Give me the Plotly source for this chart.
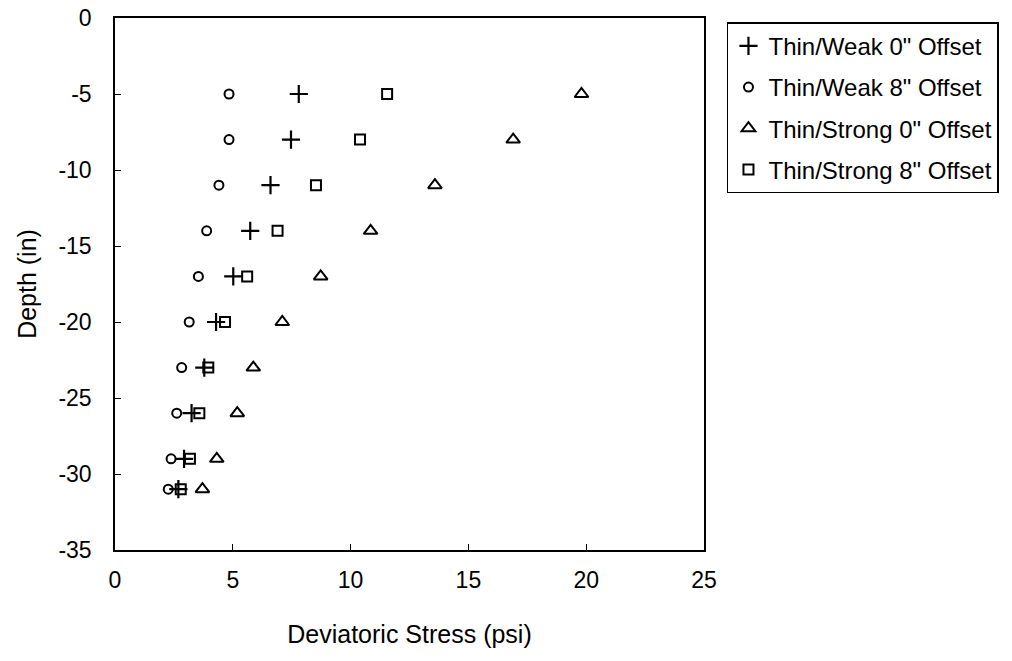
import plotly.graph_objects as go

# Depth below surface (in)
depth = [-5, -8, -11, -14, -17, -20, -23, -26, -29, -31]

# Deviatoric stress (psi) for each test section
weak_0 = [7.8, 7.47, 6.6, 5.74, 5.02, 4.29, 3.79, 3.25, 2.93, 2.69]
weak_8 = [4.84, 4.84, 4.41, 3.89, 3.54, 3.15, 2.83, 2.62, 2.38, 2.26]
strong_0 = [19.8, 16.9, 13.58, 10.85, 8.73, 7.1, 5.87, 5.19, 4.32, 3.71]
strong_8 = [11.55, 10.4, 8.53, 6.9, 5.61, 4.67, 3.96, 3.58, 3.18, 2.79]

series_names = [
    "Thin/Weak 0\" Offset",
    "Thin/Weak 8\" Offset",
    "Thin/Strong 0\" Offset",
    "Thin/Strong 8\" Offset",
]

x_ticks = [0, 5, 10, 15, 20, 25]
y_ticks = [0, -5, -10, -15, -20, -25, -30, -35]

FONT = "Arial, Liberation Sans, sans-serif"

styles = [
    dict(symbol="cross-thin-open", size=13, line=dict(color="black", width=2.2)),
    dict(symbol="circle-open", size=9, line=dict(color="black", width=2)),
    dict(symbol="triangle-up-open", size=12, line=dict(color="black", width=2)),
    dict(symbol="square-open", size=10, line=dict(color="black", width=2)),
]

fig = go.Figure()
for i, (name, xs, st) in enumerate(zip(series_names, [weak_0, weak_8, strong_0, strong_8], styles)):
    fig.add_trace(go.Scatter(
        x=xs, y=depth, mode="markers", name=name,
        legendgroup=f"g{i}",
        marker=dict(color="black", **st),
    ))

axis_common = dict(
    showline=True, linecolor="black", linewidth=1.5, mirror=True,
    showgrid=False, zeroline=False, automargin=False,
    ticks="inside", ticklen=6, tickcolor="black", tickwidth=1,
    tickfont=dict(family=FONT, size=23, color="black"),
)

fig.update_xaxes(
    range=[0, 25], tickvals=x_ticks, ticktext=[str(v) for v in x_ticks],
    title=dict(text="Deviatoric Stress (psi)", font=dict(family=FONT, size=25, color="black"), standoff=33),
    ticklabelstandoff=9,
    **axis_common,
)
fig.update_yaxes(
    range=[-35, 0], tickvals=y_ticks, ticktext=[str(v) for v in y_ticks],
    title=dict(text="Depth (in)", font=dict(family=FONT, size=25, color="black"), standoff=15),
    ticklabelstandoff=17,
    **axis_common,
)

fig.update_layout(
    width=1012, height=661,
    margin=dict(l=115, r=308, t=18, b=111),
    paper_bgcolor="white", plot_bgcolor="white",
    font=dict(family=FONT, color="black"),
    legend=dict(
        x=1.039, y=0.992, xanchor="left", yanchor="top",
        bordercolor="black", borderwidth=1.5,
        font=dict(family=FONT, size=24, color="black"),
        tracegroupgap=7, itemwidth=30,
    ),
)

fig.write_html("out.html")
